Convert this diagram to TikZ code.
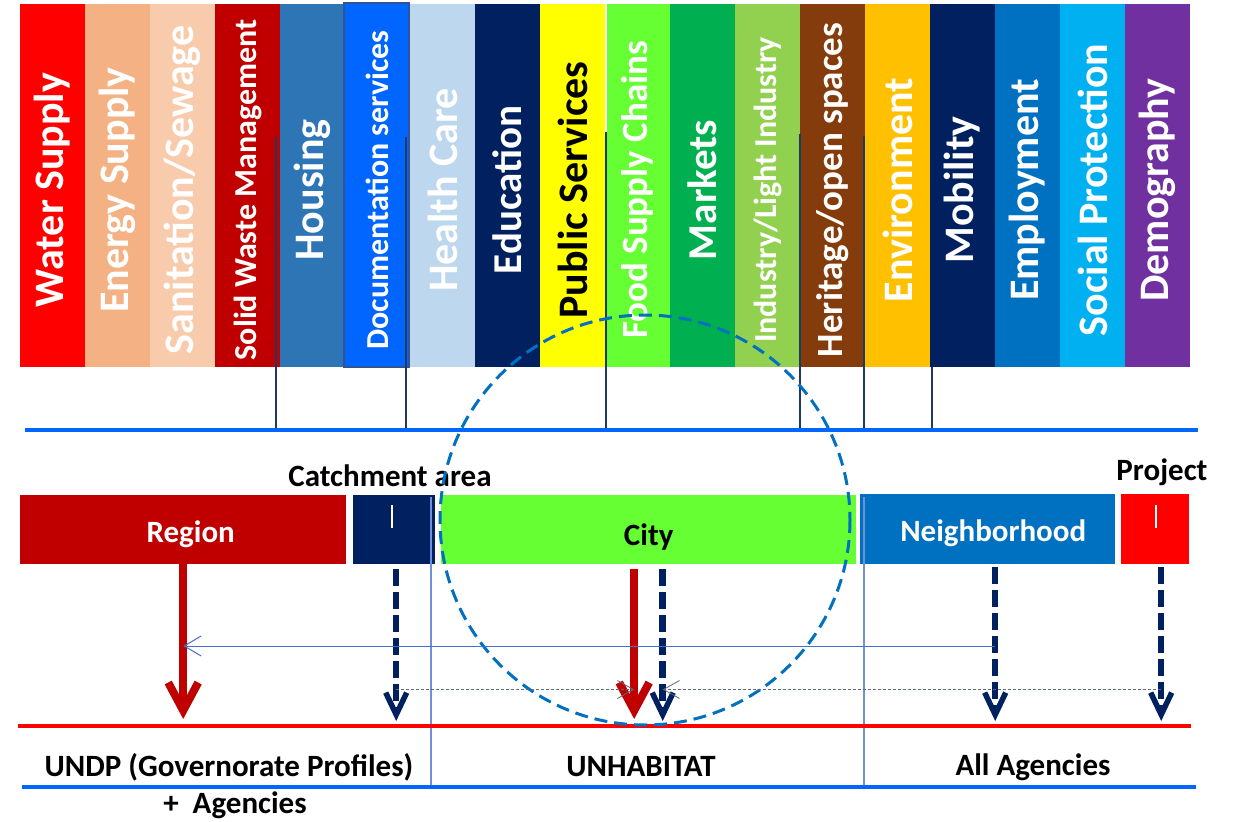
\documentclass[tikz,border=0pt]{standalone}
\usepackage{fontspec}
\setmainfont{Carlito}
\usetikzlibrary{arrows.meta}
\definecolor{ws}{HTML}{FF0000}
\definecolor{es}{HTML}{F4B183}
\definecolor{ss}{HTML}{F8CBAD}
\definecolor{swm}{HTML}{C00000}
\definecolor{hou}{HTML}{2E75B6}
\definecolor{doc}{HTML}{0066FF}
\definecolor{hc}{HTML}{BDD7EE}
\definecolor{edu}{HTML}{002060}
\definecolor{ps}{HTML}{FFFF00}
\definecolor{fsc}{HTML}{66FF33}
\definecolor{mkt}{HTML}{00B050}
\definecolor{ind}{HTML}{92D050}
\definecolor{her}{HTML}{843C0C}
\definecolor{env}{HTML}{FFC000}
\definecolor{emp}{HTML}{0070C0}
\definecolor{sp}{HTML}{00B0F0}
\definecolor{dem}{HTML}{7030A0}
\definecolor{docrim}{HTML}{2F5597}
\definecolor{guide}{HTML}{203864}
\definecolor{sepline}{HTML}{6F8FD8}
\definecolor{bline}{HTML}{0066FF}
\definecolor{thinblue}{HTML}{4472C4}
\definecolor{grayln}{HTML}{5A6A80}
\begin{document}
\begin{tikzpicture}[x=1pt,y=-1pt,
  box/.style={minimum height=69pt,inner sep=0pt,anchor=north west,text height=25pt,text depth=0pt,font=\fontsize{31}{31}\selectfont\bfseries},
  lbl/.style={inner sep=0pt,font=\fontsize{31}{31}\selectfont\bfseries},
  redarr/.style={draw=swm,line width=8pt,-{Straight Barb[length=28pt,width=30pt,line width=8pt]}},
  navyarr/.style={draw=edu,line width=6.5pt,dash pattern=on 17pt off 6pt,-{Straight Barb[length=22pt,width=21pt,line width=5.5pt]}},
  thinarr/.style={draw=thinblue,line width=1pt,-{Straight Barb[length=17pt,width=20pt,line width=1pt]}},
  grayarr/.style={draw=grayln,line width=1pt,dash pattern=on 3pt off 2pt,-{Straight Barb[length=16pt,width=18pt,line width=0.8pt]}}]
\useasboundingbox (0,0) rectangle (1235,822);
\foreach \c/\tc/\fs/\t [count=\i from 0] in {ws/white/42/Water Supply,es/white/42/Energy Supply,ss/white/42/{Sanitation/Sewage},
  swm/white/32/Solid Waste Management,hou/white/42/Housing,doc/white/32/Documentation services,hc/white/42/Health Care,
  edu/white/41/Education,ps/black/42/Public Services,fsc/white/37/Food Supply Chains,mkt/white/41/Markets,
  ind/white/32/{Industry/Light Industry},her/white/37/{Heritage/open spaces},env/white/42/Environment,edu/white/42/Mobility,
  emp/white/42/Employment,sp/white/42/Social Protection,dem/white/42/Demography}
{\fill[\c] (20+65*\i,4) rectangle ++(65,363);
\node[rotate=90,text=\tc,inner sep=0pt,font=\fontsize{\fs}{\fs}\selectfont\bfseries] (col\i) at (52.5+65*\i,190) {\t};}
\draw[docrim,line width=1.5pt] (344,3) rectangle (409,367);
\draw[white,line width=2pt] (606,4) -- (606,367);
\foreach \x/\y in {276/137,406/137,606/132,800/134,864/136,932/367}
{\draw[guide,line width=1.2pt] (\x,\y) -- (\x,430);}
\draw[bline,line width=3.5pt] (25,430) -- (1198,430);
% scales
\node[box,fill=swm,minimum width=326pt,text=white] (region) at (20,495) {\hspace*{15pt}Region};
\node[box,fill=edu,minimum width=82pt] (catch) at (353,495) {};
\node[box,fill=fsc,minimum width=415pt,text height=31pt] (city) at (441,495) {City};
\node[box,fill=emp,minimum width=255pt,minimum height=70pt,text=white] (nbhd) at (860,494) {\hspace*{11pt}Neighborhood};
\node[box,fill=ws,minimum width=68pt,minimum height=70pt] (proj) at (1121,494) {};
\draw[white,line width=1.2pt] (392,505) -- (392,528);
\draw[white,line width=1.2pt] (1156,505) -- (1156,528);
\node[lbl] (catchlbl) at (390,476) {Catchment area};
\node[lbl] (projlbl) at (1162,472) {Project};
\foreach \x in {431,864}
{\draw[sepline,line width=1.5pt] (\x,497) -- (\x,789);}
\draw[ws,line width=4pt] (18,726) -- (1191,726);
\draw[bline,line width=3.5pt] (22,787) -- (1196,787);
\node[lbl] (undp) at (229,767) {UNDP (Governorate Profiles)};
\node[lbl] (agencies) at (235,805) {+\ \ Agencies};
\node[lbl] (unhab) at (641,767) {UNHABITAT};
\node[lbl] (allag) at (1033,767) {All Agencies};
\draw[emp,line width=3pt,dash pattern=on 13pt off 7pt] (645,520) circle (205);
% arrows
\coordinate (tips) at (0,719);
\coordinate (ntips) at (0,721);
\coordinate (mid) at (0,646);
\coordinate (gl) at (0,689.5);
\coordinate (xr) at (region.south);
\coordinate (xc) at ([xshift=2pt,yshift=-5pt]catch.south);
\coordinate (xcr) at ([xshift=-14.5pt,yshift=-5pt]city.south);
\coordinate (xcn) at ([xshift=14pt,yshift=-5pt]city.south);
\coordinate (xn) at ([xshift=7.5pt,yshift=-3pt]nbhd.south);
\coordinate (xp) at ([xshift=6pt,yshift=-3pt]proj.south);
\draw[redarr] (xr) -- (xr |- tips);
\draw[redarr] (xcr) -- (xcr |- tips);
\draw[navyarr] (xc) -- (xc |- ntips);
\draw[navyarr] (xcn) -- (xcn |- ntips);
\draw[navyarr] (xn) -- (xn |- ntips);
\draw[navyarr] (xp) -- (xp |- ntips);
\draw[thinarr] (xn |- mid) -- (xr |- mid);
\draw[grayarr] (xc |- gl) -- (xcr |- gl);
\draw[grayarr] (xp |- gl) -- (xcn |- gl);
\end{tikzpicture}
\end{document}
